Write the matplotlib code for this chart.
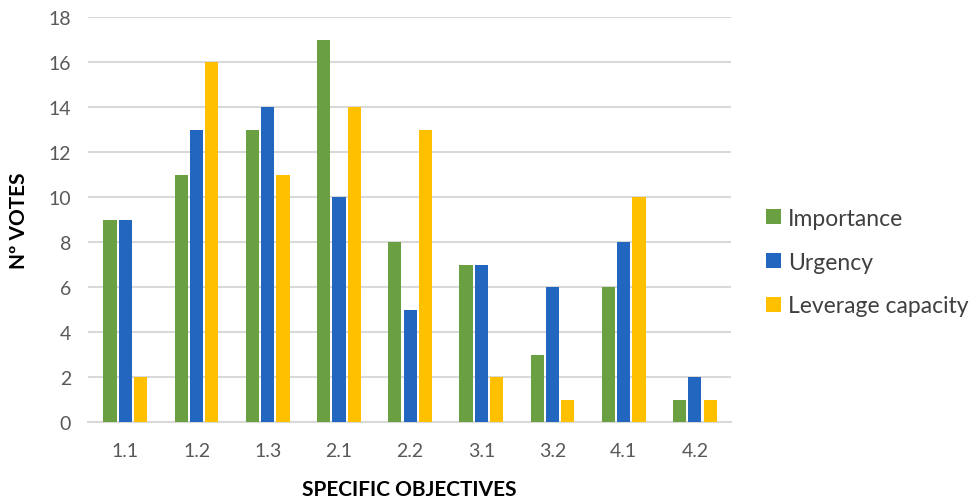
import matplotlib.pyplot as plt
import numpy as np

objectives = ['1.1', '1.2', '1.3', '2.1', '2.2', '3.1', '3.2', '4.1', '4.2']
importance = [9, 11, 13, 17, 8, 7, 3, 6, 1]
urgency = [9, 13, 14, 10, 5, 7, 6, 8, 2]
leverage = [2, 16, 11, 14, 13, 2, 1, 10, 1]

series = [('Importance', importance, '#6a9f42'),
          ('Urgency', urgency, '#2266c0'),
          ('Leverage capacity', leverage, '#ffc000')]

plt.rcParams['font.family'] = ['Lato', 'DejaVu Sans']

fig = plt.figure(figsize=(9.74, 5.02), dpi=100)
ax = fig.add_axes([0.090, 0.157, 0.660, 0.807])

x = np.arange(len(objectives))
width = 0.185
step = 0.215
for i, (name, vals, col) in enumerate(series):
    ax.bar(x + (i - 1) * step, vals, width, color=col, label=name, zorder=3)

ax.set_xlim(-0.53, len(objectives) - 0.5)
ax.set_ylim(0, 18)
ax.set_yticks(range(0, 19, 2))
ax.set_xticks(x)
ax.set_xticklabels(objectives)
ax.yaxis.grid(True, color='#d9d9d9', linewidth=1.5, zorder=0)
ax.tick_params(axis='x', length=0, labelsize=14, colors='#595959', pad=14)
ax.tick_params(axis='y', length=0, labelsize=14, colors='#595959', pad=12)
for s in ['top', 'right', 'left']:
    ax.spines[s].set_visible(False)
ax.spines['bottom'].set_color('#d9d9d9')
ax.spines['bottom'].set_linewidth(1.5)

ax.set_xlabel('SPECIFIC OBJECTIVES', fontsize=15, fontweight='bold', labelpad=15)
ax.set_ylabel('Nº VOTES', fontsize=15, fontweight='bold', labelpad=14)

fig.legend(loc='center left', bbox_to_anchor=(0.765, 0.476), frameon=False,
           fontsize=16.5, handlelength=0.66, handleheight=0.66, handletextpad=0.3,
           labelspacing=1.0, labelcolor='#404040')

fig.savefig('out.png', dpi=100)
